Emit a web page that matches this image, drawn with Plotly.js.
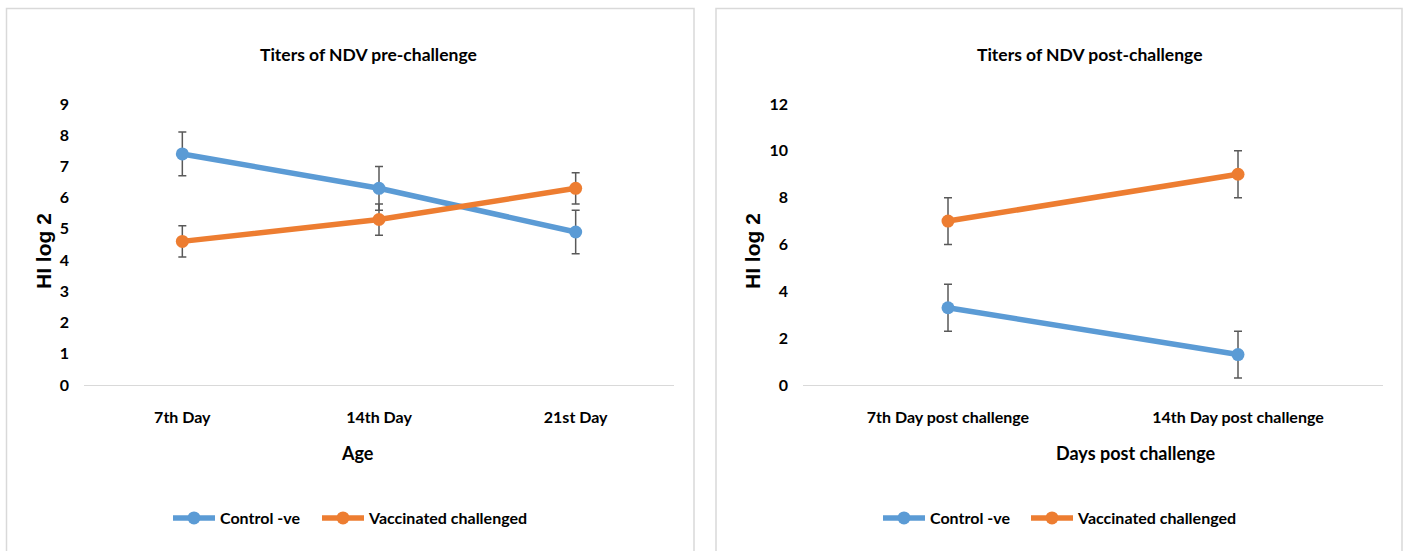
<!DOCTYPE html>
<html>
<head>
<meta charset="utf-8">
<script src="https://cdn.plot.ly/plotly-3.0.1.min.js"></script>
<style>
html,body{margin:0;padding:0;background:#fff;}
#chart{width:1405px;height:551px;}
</style>
</head>
<body>
<div id="chart"></div>
<script>
// ---- data ----
const preCategories = ["7th Day", "14th Day", "21st Day"];
const preControl = [7.4, 6.3, 4.9];
const preControlErr = [0.7, 0.7, 0.7];
const preVaccinated = [4.6, 5.3, 6.3];
const preVaccinatedErr = [0.5, 0.5, 0.5];

const postCategories = ["7th Day post challenge", "14th Day post challenge"];
const postControl = [3.3, 1.3];
const postControlErr = [1, 1];
const postVaccinated = [7, 9];
const postVaccinatedErr = [1, 1];

const seriesNames = ["Control -ve", "Vaccinated challenged"];
const preYTicks = [0, 1, 2, 3, 4, 5, 6, 7, 8, 9];
const postYTicks = [0, 2, 4, 6, 8, 10, 12];

// ---- style ----
const FONT = "Lato, DejaVu Sans Condensed, sans-serif";
const BLUE = "#5B9BD5";
const ORANGE = "#ED7D31";
const ERRC = "#595959";
const W = 1405, H = 551;
const px = v => v / W;
const py = v => 1 - v / H;

function trace(x, y, err, name, color, xa, ya, leg) {
  return {
    type: "scatter", mode: "lines+markers",
    x: x, y: y, name: name,
    xaxis: xa, yaxis: ya, legend: leg,
    line: {color: color, width: 5.5},
    marker: {color: color, size: 13},
    error_y: {type: "data", array: err, visible: true, color: ERRC, thickness: 1.5, width: 4},
    hoverinfo: "x+y"
  };
}

const data = [
  trace(preCategories, preControl, preControlErr, seriesNames[0], BLUE, "x", "y", "legend"),
  trace(preCategories, preVaccinated, preVaccinatedErr, seriesNames[1], ORANGE, "x", "y", "legend2"),
  trace(postCategories, postControl, postControlErr, seriesNames[0], BLUE, "x2", "y2", "legend3"),
  trace(postCategories, postVaccinated, postVaccinatedErr, seriesNames[1], ORANGE, "x2", "y2", "legend4")
];

const yDomain = [py(385), py(104)];
const tickFont = {family: FONT, size: 16, color: "#000", weight: "bold"};
const xAxisCommon = {
  type: "category", showgrid: false, zeroline: false,
  showline: true, linecolor: "#d9d9d9", linewidth: 1,
  ticks: "", tickfont: tickFont, ticklabelstandoff: 18, fixedrange: true
};
const yAxisCommon = {
  showgrid: false, zeroline: false, showline: false, ticks: "",
  tickfont: tickFont, ticklabelstandoff: 14, fixedrange: true
};

const legendCommon = {
  orientation: "h", xanchor: "left", yanchor: "middle",
  font: {family: FONT, size: 16, color: "#000", weight: "bold"},
  itemwidth: 42,
  bgcolor: "rgba(0,0,0,0)", itemclick: false, itemdoubleclick: false
};

const titleFont = {family: FONT, size: 17.5, color: "#000", weight: "bold"};
const axTitleFont = {family: FONT, size: 18, color: "#000", weight: "bold"};
const yTitleFont = {family: "Liberation Sans, Arial, sans-serif", size: 21, color: "#000", weight: "bold"};

const layout = {
  width: W, height: H,
  margin: {l: 0, r: 0, t: 0, b: 0},
  paper_bgcolor: "#fff", plot_bgcolor: "#fff",
  showlegend: true,
  xaxis: Object.assign({}, xAxisCommon, {domain: [px(84), px(674)], anchor: "y", range: [-0.5, 2.5]}),
  yaxis: Object.assign({}, yAxisCommon, {domain: yDomain, anchor: "x", range: [0, 9], tickvals: preYTicks}),
  xaxis2: Object.assign({}, xAxisCommon, {domain: [px(803), px(1383)], anchor: "y2", range: [-0.5, 1.5]}),
  yaxis2: Object.assign({}, yAxisCommon, {domain: yDomain, anchor: "x2", range: [0, 12], tickvals: postYTicks}),
  legend: Object.assign({}, legendCommon, {x: px(168), y: py(518)}),
  legend2: Object.assign({}, legendCommon, {x: px(317), y: py(518)}),
  legend3: Object.assign({}, legendCommon, {x: px(878), y: py(518)}),
  legend4: Object.assign({}, legendCommon, {x: px(1026), y: py(518)}),
  shapes: [
    {type: "rect", xref: "paper", yref: "paper", x0: px(6.5), x1: px(694), y0: py(570), y1: py(8.5),
     line: {color: "#d9d9d9", width: 1.5}, fillcolor: "rgba(0,0,0,0)", layer: "below"},
    {type: "rect", xref: "paper", yref: "paper", x0: px(716), x1: px(1402), y0: py(570), y1: py(8.5),
     line: {color: "#d9d9d9", width: 1.5}, fillcolor: "rgba(0,0,0,0)", layer: "below"}
  ],
  annotations: [
    {text: "Titers of NDV pre-challenge", xref: "paper", yref: "paper", x: px(368), y: py(55),
     xanchor: "center", yanchor: "middle", showarrow: false, font: titleFont},
    {text: "Titers of NDV post-challenge", xref: "paper", yref: "paper", x: px(1090), y: py(55),
     xanchor: "center", yanchor: "middle", showarrow: false, font: titleFont},
    {text: "Age", xref: "paper", yref: "paper", x: px(357), y: py(453),
     xanchor: "center", yanchor: "middle", showarrow: false, font: axTitleFont},
    {text: "Days post challenge", xref: "paper", yref: "paper", x: px(1135), y: py(453),
     xanchor: "center", yanchor: "middle", showarrow: false, font: axTitleFont},
    {text: "HI log 2", xref: "paper", yref: "paper", x: px(43), y: py(251), textangle: -90,
     xanchor: "center", yanchor: "middle", showarrow: false, font: yTitleFont},
    {text: "HI log 2", xref: "paper", yref: "paper", x: px(752), y: py(251), textangle: -90,
     xanchor: "center", yanchor: "middle", showarrow: false, font: yTitleFont}
  ]
};

Plotly.newPlot("chart", data, layout, {displayModeBar: false, staticPlot: true});
</script>
</body>
</html>
